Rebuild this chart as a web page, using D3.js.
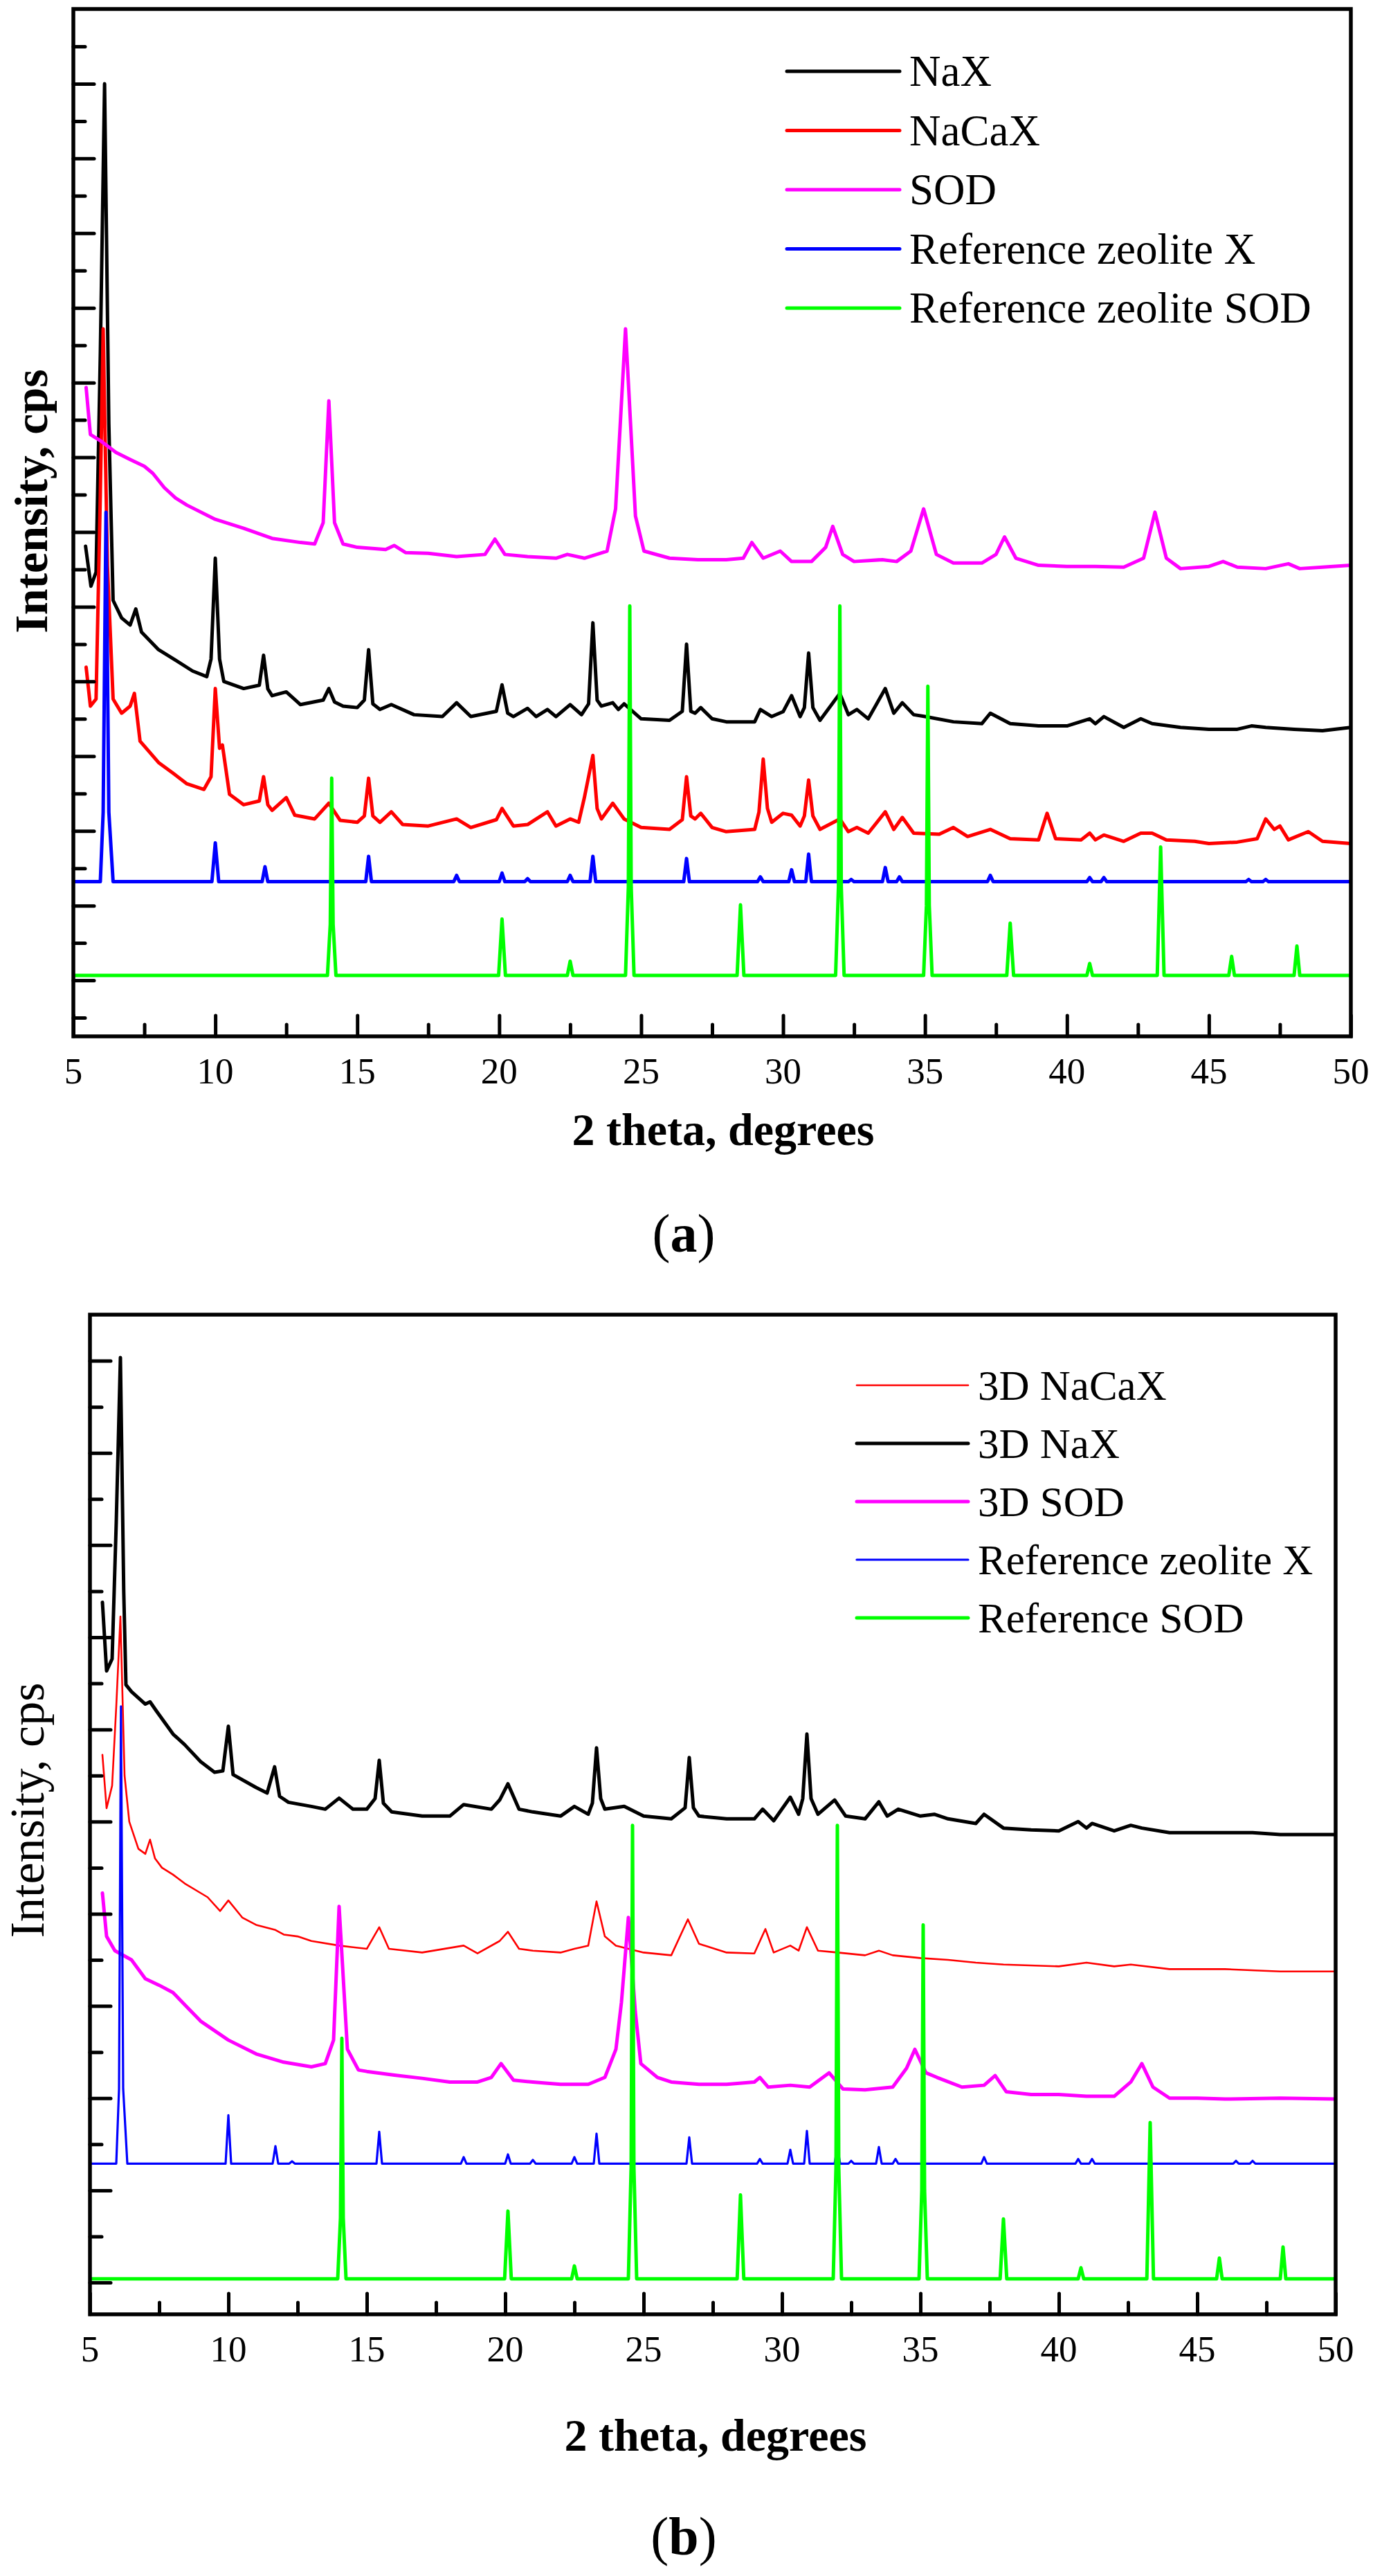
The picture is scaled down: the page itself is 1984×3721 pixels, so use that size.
<!DOCTYPE html>
<html>
<head>
<meta charset="utf-8">
<script src="https://cdn.jsdelivr.net/npm/d3@7"></script>
<style>
  html, body { margin: 0; padding: 0; background: #fff; }
  svg { display: block; }
  text { font-family: "Palatino Linotype", Palatino, "Book Antiqua", "Liberation Serif", serif; fill: #000; }
</style>
</head>
<body>
<svg id="chart" width="1984" height="3721"></svg>
<script>
// 2 theta tick labels (both panels)
const xTickLabels = [5, 10, 15, 20, 25, 30, 35, 40, 45, 50];

// ---- panel (a) patterns: [2theta, intensity in tick units] ----
const naxA = [[5.43,11.62],[5.62,10.55],[5.8,10.93],[5.95,16.78],[6.1,24.0],[6.25,14.89],[6.4,10.17],[6.7,9.70],[7.0,9.51],[7.2,9.94],[7.4,9.32],[8.0,8.85],[8.6,8.57],[9.2,8.28],[9.7,8.13],[9.85,8.6],[10.0,11.30],[10.15,8.6],[10.3,8.0],[11.0,7.81],[11.55,7.9],[11.7,8.70],[11.85,7.8],[12.0,7.62],[12.5,7.72],[13.0,7.38],[13.8,7.5],[14.0,7.81],[14.2,7.45],[14.5,7.34],[15.0,7.30],[15.25,7.5],[15.4,8.85],[15.55,7.4],[15.8,7.25],[16.2,7.38],[17.0,7.11],[18.0,7.06],[18.5,7.43],[19.0,7.06],[19.9,7.2],[20.1,7.91],[20.3,7.15],[20.5,7.06],[21.0,7.28],[21.3,7.06],[21.7,7.25],[22.0,7.06],[22.5,7.38],[22.9,7.11],[23.15,7.4],[23.3,9.57],[23.45,7.5],[23.6,7.34],[24.0,7.43],[24.2,7.25],[24.4,7.40],[25.0,7.0],[26.0,6.96],[26.45,7.2],[26.6,9.0],[26.75,7.2],[26.9,7.15],[27.1,7.30],[27.5,7.0],[28.0,6.92],[29.0,6.92],[29.2,7.25],[29.6,7.06],[30.0,7.19],[30.3,7.62],[30.6,7.06],[30.75,7.3],[30.9,8.76],[31.05,7.3],[31.3,6.96],[32.0,7.68],[32.3,7.11],[32.6,7.25],[33.0,7.0],[33.6,7.81],[33.9,7.15],[34.2,7.43],[34.6,7.11],[35.0,7.06],[36.0,6.92],[37.0,6.87],[37.3,7.15],[38.0,6.87],[39.0,6.81],[40.0,6.81],[40.8,7.0],[41.0,6.87],[41.3,7.06],[42.0,6.77],[42.6,7.0],[43.0,6.87],[44.0,6.77],[45.0,6.72],[46.0,6.72],[46.5,6.81],[47.0,6.77],[48.0,6.72],[49.0,6.68],[50.0,6.77]];

const nacaxA = [[5.45,8.38],[5.6,7.34],[5.8,7.53],[5.95,13.0],[6.05,17.44],[6.2,11.11],[6.4,7.53],[6.7,7.15],[7.0,7.34],[7.15,7.68],[7.35,6.40],[8.0,5.83],[8.5,5.55],[9.0,5.26],[9.6,5.11],[9.85,5.45],[10.0,7.81],[10.15,6.21],[10.25,6.30],[10.5,4.98],[11.0,4.70],[11.55,4.8],[11.7,5.45],[11.85,4.7],[12.0,4.55],[12.5,4.89],[12.8,4.42],[13.5,4.32],[14.0,4.74],[14.4,4.28],[15.0,4.23],[15.25,4.4],[15.4,5.41],[15.55,4.4],[15.8,4.23],[16.2,4.51],[16.6,4.17],[17.5,4.13],[18.5,4.32],[19.0,4.09],[19.9,4.3],[20.1,4.60],[20.5,4.13],[21.0,4.17],[21.7,4.51],[22.0,4.13],[22.5,4.32],[22.8,4.23],[23.0,4.89],[23.3,6.02],[23.45,4.6],[23.6,4.32],[24.0,4.74],[24.4,4.32],[25.0,4.09],[26.0,4.04],[26.45,4.3],[26.6,5.45],[26.75,4.4],[26.9,4.32],[27.1,4.47],[27.5,4.09],[28.0,3.98],[29.0,4.04],[29.15,4.5],[29.3,5.92],[29.45,4.6],[29.6,4.23],[30.0,4.47],[30.3,4.42],[30.6,4.13],[30.75,4.4],[30.9,5.36],[31.05,4.4],[31.3,4.04],[32.0,4.32],[32.3,3.98],[32.6,4.09],[33.0,3.94],[33.6,4.51],[33.9,4.04],[34.2,4.36],[34.6,3.94],[35.5,3.91],[36.0,4.09],[36.5,3.85],[37.3,4.04],[38.0,3.79],[39.0,3.76],[39.3,4.47],[39.6,3.79],[40.5,3.76],[40.8,3.94],[41.0,3.76],[41.3,3.89],[42.0,3.72],[42.6,3.94],[43.0,3.94],[43.5,3.76],[44.5,3.72],[45.0,3.66],[46.0,3.70],[46.7,3.79],[47.0,4.32],[47.3,4.04],[47.5,4.13],[47.8,3.76],[48.5,3.98],[49.0,3.72],[50.0,3.66]];

const sodA = [[5.45,15.87],[5.6,14.61],[6.0,14.42],[6.5,14.13],[7.0,13.94],[7.5,13.76],[7.8,13.57],[8.2,13.19],[8.6,12.91],[9.0,12.72],[10.0,12.34],[11.0,12.10],[12.0,11.83],[13.0,11.72],[13.5,11.68],[13.8,12.25],[14.0,15.51],[14.2,12.25],[14.5,11.68],[15.0,11.59],[16.0,11.53],[16.3,11.64],[16.7,11.45],[17.5,11.43],[18.5,11.34],[19.5,11.40],[19.85,11.81],[20.2,11.40],[21.0,11.34],[22.0,11.30],[22.4,11.40],[23.0,11.30],[23.8,11.49],[24.1,12.62],[24.45,17.44],[24.8,12.43],[25.1,11.49],[26.0,11.30],[27.0,11.26],[28.0,11.26],[28.6,11.30],[28.9,11.72],[29.3,11.30],[29.9,11.49],[30.3,11.21],[31.0,11.21],[31.5,11.59],[31.75,12.15],[32.1,11.40],[32.5,11.21],[33.5,11.26],[34.0,11.21],[34.5,11.49],[34.95,12.62],[35.4,11.40],[36.0,11.17],[37.0,11.17],[37.5,11.40],[37.8,11.87],[38.2,11.30],[39.0,11.11],[40.0,11.08],[41.0,11.08],[42.0,11.06],[42.7,11.30],[43.1,12.53],[43.5,11.30],[44.0,11.02],[45.0,11.08],[45.5,11.21],[46.0,11.06],[47.0,11.02],[47.8,11.15],[48.2,11.02],[49.0,11.06],[50.0,11.11]];

const refXA = [[5.0,2.64],[5.95,2.64],[6.05,4.5],[6.15,12.53],[6.25,4.5],[6.4,2.64],[9.88,2.64],[10.0,3.68],[10.12,2.64],[11.65,2.64],[11.75,3.04],[11.85,2.64],[15.3,2.64],[15.4,3.32],[15.5,2.64],[18.4,2.64],[18.5,2.81],[18.6,2.64],[20.0,2.64],[20.1,2.87],[20.2,2.64],[20.9,2.64],[21.0,2.72],[21.1,2.64],[22.4,2.64],[22.5,2.81],[22.6,2.64],[23.2,2.64],[23.3,3.32],[23.4,2.64],[26.5,2.64],[26.6,3.26],[26.7,2.64],[29.1,2.64],[29.2,2.77],[29.3,2.64],[30.2,2.64],[30.3,2.96],[30.4,2.64],[30.8,2.64],[30.9,3.38],[31.0,2.64],[32.3,2.64],[32.4,2.70],[32.5,2.64],[33.5,2.64],[33.6,3.02],[33.7,2.64],[34.0,2.64],[34.1,2.77],[34.2,2.64],[37.2,2.64],[37.3,2.81],[37.4,2.64],[40.7,2.64],[40.8,2.75],[40.9,2.64],[41.2,2.64],[41.3,2.75],[41.4,2.64],[46.3,2.64],[46.4,2.70],[46.5,2.64],[46.9,2.64],[47.0,2.70],[47.1,2.64],[50.0,2.64]];

const refSodA = [[5.0,0.13],[13.95,0.13],[14.05,1.5],[14.1,5.41],[14.15,1.5],[14.25,0.13],[19.98,0.13],[20.1,1.64],[20.22,0.13],[22.4,0.13],[22.5,0.51],[22.6,0.13],[24.45,0.13],[24.55,2.5],[24.6,10.02],[24.65,2.5],[24.75,0.13],[28.38,0.13],[28.5,2.02],[28.62,0.13],[31.85,0.13],[31.95,2.5],[32.0,10.02],[32.05,2.5],[32.15,0.13],[34.95,0.13],[35.05,2.0],[35.1,7.87],[35.15,2.0],[35.25,0.13],[37.88,0.13],[38.0,1.53],[38.12,0.13],[40.7,0.13],[40.8,0.45],[40.9,0.13],[43.18,0.13],[43.3,3.57],[43.42,0.13],[45.7,0.13],[45.8,0.64],[45.9,0.13],[48.0,0.13],[48.1,0.92],[48.2,0.13],[50.0,0.13]];

// ---- panel (b) patterns ----
const naxB = [[5.45,14.76],[5.6,13.27],[5.8,13.53],[5.95,16.5],[6.1,20.07],[6.22,15.0],[6.3,12.97],[6.5,12.82],[7.0,12.55],[7.17,12.6],[7.4,12.4],[8.0,11.9],[8.42,11.67],[9.0,11.3],[9.5,11.07],[9.8,11.1],[10.0,12.07],[10.17,11.02],[11.0,10.74],[11.4,10.62],[11.67,11.19],[11.85,10.55],[12.17,10.42],[13.0,10.33],[13.5,10.27],[14.0,10.51],[14.5,10.27],[15.0,10.27],[15.3,10.5],[15.45,11.33],[15.6,10.4],[15.9,10.21],[17.0,10.12],[18.0,10.12],[18.5,10.37],[19.5,10.27],[19.8,10.47],[20.1,10.82],[20.5,10.27],[21.0,10.21],[22.0,10.12],[22.5,10.33],[23.0,10.16],[23.15,10.4],[23.3,11.6],[23.45,10.5],[23.6,10.27],[24.3,10.33],[25.0,10.12],[26.0,10.06],[26.5,10.3],[26.65,11.39],[26.8,10.3],[27.0,10.12],[28.0,10.06],[29.0,10.06],[29.3,10.27],[29.7,10.02],[30.3,10.53],[30.6,10.16],[30.75,10.5],[30.9,11.9],[31.05,10.5],[31.3,10.16],[31.9,10.47],[32.3,10.12],[33.0,10.06],[33.5,10.43],[33.8,10.12],[34.2,10.27],[35.0,10.12],[35.5,10.16],[36.0,10.06],[37.0,9.96],[37.3,10.16],[38.0,9.86],[39.0,9.82],[40.0,9.80],[40.7,10.0],[41.0,9.86],[41.2,9.96],[42.0,9.80],[42.6,9.92],[43.0,9.86],[44.0,9.76],[46.0,9.76],[47.0,9.76],[48.0,9.72],[50.0,9.72]];

const nacaxB = [[5.45,11.45],[5.6,10.29],[5.8,10.78],[5.95,12.5],[6.1,14.45],[6.25,11.0],[6.42,10.0],[6.75,9.41],[7.0,9.3],[7.17,9.61],[7.35,9.2],[7.6,9.0],[8.0,8.85],[8.42,8.66],[9.0,8.45],[9.25,8.36],[9.7,8.06],[10.0,8.29],[10.5,7.92],[11.0,7.76],[11.7,7.65],[12.0,7.55],[12.5,7.51],[13.0,7.41],[14.0,7.31],[15.0,7.24],[15.45,7.71],[15.8,7.24],[17.0,7.16],[18.5,7.31],[19.0,7.14],[19.8,7.41],[20.1,7.61],[20.5,7.24],[21.0,7.2],[22.0,7.16],[22.5,7.24],[23.0,7.31],[23.3,8.27],[23.6,7.51],[24.0,7.31],[25.0,7.16],[26.0,7.10],[26.6,7.88],[27.0,7.35],[28.0,7.16],[29.0,7.14],[29.4,7.67],[29.7,7.16],[30.3,7.31],[30.6,7.2],[30.9,7.71],[31.3,7.2],[32.0,7.16],[33.0,7.10],[33.5,7.2],[34.0,7.10],[35.0,7.04],[36.0,7.0],[37.0,6.94],[38.0,6.90],[40.0,6.86],[41.0,6.94],[42.0,6.86],[42.6,6.90],[44.0,6.80],[46.0,6.80],[48.0,6.75],[50.0,6.75]];

const sodB = [[5.45,8.45],[5.6,7.51],[5.9,7.20],[6.5,7.0],[7.0,6.59],[7.5,6.45],[8.0,6.29],[8.5,5.98],[9.0,5.67],[10.0,5.26],[11.0,4.96],[12.0,4.78],[13.0,4.68],[13.5,4.75],[13.8,5.26],[14.0,8.16],[14.3,5.06],[14.7,4.61],[15.0,4.58],[16.0,4.50],[17.0,4.43],[18.0,4.35],[19.0,4.35],[19.5,4.45],[19.85,4.75],[20.3,4.39],[21.0,4.35],[22.0,4.30],[23.0,4.30],[23.6,4.45],[24.0,5.06],[24.2,6.08],[24.45,7.92],[24.7,5.88],[24.9,4.75],[25.5,4.45],[26.0,4.35],[27.0,4.30],[28.0,4.30],[29.0,4.35],[29.2,4.45],[29.5,4.24],[30.3,4.28],[31.0,4.24],[31.7,4.55],[32.2,4.20],[33.0,4.18],[34.0,4.24],[34.5,4.65],[34.8,5.06],[35.2,4.55],[35.6,4.45],[36.5,4.24],[37.3,4.28],[37.7,4.49],[38.1,4.14],[39.0,4.08],[40.0,4.08],[41.0,4.04],[42.0,4.04],[42.6,4.35],[43.0,4.75],[43.4,4.24],[44.0,4.0],[45.0,4.0],[46.0,3.98],[48.0,4.0],[50.0,3.98]];

const refXB = [[5.0,2.58],[5.95,2.58],[6.05,4.2],[6.12,12.5],[6.2,4.2],[6.35,2.58],[9.9,2.58],[10.0,3.63],[10.1,2.58],[11.6,2.58],[11.7,2.96],[11.8,2.58],[12.2,2.58],[12.3,2.63],[12.4,2.58],[15.35,2.58],[15.45,3.27],[15.55,2.58],[18.4,2.58],[18.5,2.72],[18.6,2.58],[20.0,2.58],[20.1,2.78],[20.2,2.58],[20.9,2.58],[21.0,2.66],[21.1,2.58],[22.4,2.58],[22.5,2.72],[22.6,2.58],[23.2,2.58],[23.3,3.23],[23.4,2.58],[26.55,2.58],[26.65,3.15],[26.75,2.58],[29.1,2.58],[29.2,2.68],[29.3,2.58],[30.2,2.58],[30.3,2.88],[30.4,2.58],[30.8,2.58],[30.9,3.29],[31.0,2.58],[31.9,2.58],[32.0,2.94],[32.1,2.58],[32.4,2.58],[32.5,2.64],[32.6,2.58],[33.4,2.58],[33.5,2.94],[33.6,2.58],[34.0,2.58],[34.1,2.68],[34.2,2.58],[37.2,2.58],[37.3,2.72],[37.4,2.58],[40.6,2.58],[40.7,2.68],[40.8,2.58],[41.1,2.58],[41.2,2.68],[41.3,2.58],[46.3,2.58],[46.4,2.64],[46.5,2.58],[46.9,2.58],[47.0,2.64],[47.1,2.58],[50.0,2.58]];

const refSodB = [[5.0,0.08],[13.95,0.08],[14.05,1.4],[14.1,5.3],[14.15,1.4],[14.25,0.08],[19.98,0.08],[20.1,1.55],[20.22,0.08],[22.4,0.08],[22.5,0.36],[22.6,0.08],[24.45,0.08],[24.55,2.5],[24.6,9.92],[24.65,2.5],[24.75,0.08],[28.38,0.08],[28.5,1.9],[28.62,0.08],[31.85,0.08],[31.95,2.5],[32.0,9.92],[32.05,2.5],[32.15,0.08],[34.95,0.08],[35.05,2.0],[35.1,7.76],[35.15,2.0],[35.25,0.08],[37.88,0.08],[38.0,1.38],[38.12,0.08],[40.7,0.08],[40.8,0.32],[40.9,0.08],[43.18,0.08],[43.3,3.47],[43.42,0.08],[45.7,0.08],[45.8,0.53],[45.9,0.08],[48.0,0.08],[48.1,0.77],[48.2,0.08],[50.0,0.08]];

// legend order as in the figure
const legendA = ['NaX', 'NaCaX', 'SOD', 'Reference zeolite X', 'Reference zeolite SOD'];
const legendB = ['3D NaCaX', '3D NaX', '3D SOD', 'Reference zeolite X', 'Reference SOD'];

const svg = d3.select('#chart');

function drawPanel(p) {
  const x = d3.scaleLinear().domain([5, 50]).range([p.left, p.right]);
  const y = d3.scaleLinear().domain(p.yDomain).range([p.bottom, p.top]);
  const g = svg.append('g');

  g.append('clipPath').attr('id', 'clip-' + p.id)
    .append('rect')
    .attr('x', p.left).attr('y', p.top)
    .attr('width', p.right - p.left).attr('height', p.bottom - p.top);

  const line = d3.line().x(d => x(d[0])).y(d => y(d[1]));
  const plot = g.append('g').attr('clip-path', 'url(#clip-' + p.id + ')');
  p.series.forEach(s => {
    plot.append('path')
      .datum(s.data)
      .attr('d', line)
      .attr('fill', 'none')
      .attr('stroke', s.color)
      .attr('stroke-width', s.width)
      .attr('stroke-linejoin', 'round')
      .attr('stroke-linecap', 'round');
  });

  // inward ticks, bottom axis
  const xTicks = d3.range(5, 50.01, 2.5);
  const xAxis = d3.axisBottom(x).tickValues(xTicks).tickSize(0).tickFormat('');
  const gx = g.append('g').attr('transform', `translate(0,${p.bottom})`).call(xAxis);
  gx.select('.domain').remove();
  gx.selectAll('.tick').append('line')
    .attr('y1', 0)
    .attr('y2', d => d % 5 === 0 ? -30 : -17)
    .attr('stroke', '#000').attr('stroke-width', 5).attr('stroke-linecap', 'round');

  g.selectAll('.xlab').data(xTickLabels).enter().append('text')
    .attr('x', d => x(d))
    .attr('y', p.bottom + 68)
    .attr('text-anchor', 'middle')
    .attr('font-size', 53)
    .text(d => d);

  // inward ticks, left axis (no labels)
  const yTicks = d3.range(p.yTickStart, p.yTickEnd + 1, 1);
  const yAxis = d3.axisLeft(y).tickValues(yTicks).tickSize(0).tickFormat('');
  const gy = g.append('g').attr('transform', `translate(${p.left},0)`).call(yAxis);
  gy.select('.domain').remove();
  gy.selectAll('.tick').append('line')
    .attr('x1', 0)
    .attr('x2', d => Math.abs(d % 2) === 0 ? 30 : 17)
    .attr('stroke', '#000').attr('stroke-width', 5).attr('stroke-linecap', 'round');

  // frame
  g.append('rect')
    .attr('x', p.left).attr('y', p.top)
    .attr('width', p.right - p.left).attr('height', p.bottom - p.top)
    .attr('fill', 'none').attr('stroke', '#000').attr('stroke-width', 5.5);

  // legend
  p.legend.forEach((name, i) => {
    const s = p.series[p.legendIdx[i]];
    const ly = p.legY + i * p.legStep;
    g.append('line')
      .attr('x1', p.legX1).attr('x2', p.legX2)
      .attr('y1', ly).attr('y2', ly)
      .attr('stroke', s.color).attr('stroke-width', s.width)
      .attr('stroke-linecap', 'round');
    g.append('text')
      .attr('x', p.legX2 + 14).attr('y', ly + 21)
      .attr('font-size', p.legFont)
      .text(name);
  });

  // axis titles
  g.append('text')
    .attr('transform', `translate(${p.yLabX},${p.yLabY}) rotate(-90)`)
    .attr('text-anchor', 'middle')
    .attr('font-size', p.yLabSize)
    .attr('font-weight', p.yLabBold ? 'bold' : 'normal')
    .text('Intensity, cps');

  g.append('text')
    .attr('x', p.xLabX).attr('y', p.xLabY)
    .attr('text-anchor', 'middle')
    .attr('font-size', 66).attr('font-weight', 'bold')
    .text('2 theta, degrees');

  const cap = g.append('text')
    .attr('x', 988).attr('y', p.capY)
    .attr('text-anchor', 'middle')
    .attr('font-size', 78);
  cap.append('tspan').text('(');
  cap.append('tspan').attr('font-weight', 'bold').text(p.cap);
  cap.append('tspan').text(')');
}

drawPanel({
  id: 'a', left: 106, right: 1952, top: 13, bottom: 1497,
  yDomain: [-1.5, 26.0], yTickStart: -1, yTickEnd: 25,
  series: [
    { data: naxA, color: '#000000', width: 5 },
    { data: nacaxA, color: '#ff0000', width: 5 },
    { data: sodA, color: '#ff00ff', width: 5 },
    { data: refXA, color: '#0000ff', width: 5 },
    { data: refSodA, color: '#00ff00', width: 5 }
  ],
  legend: legendA, legendIdx: [0, 1, 2, 3, 4],
  legX1: 1137, legX2: 1300, legY: 103, legStep: 85.5, legFont: 63,
  yLabX: 68, yLabY: 724, yLabBold: true, yLabSize: 68,
  xLabX: 1045, xLabY: 1654,
  cap: 'a', capY: 1808
});

drawPanel({
  id: 'b', left: 130, right: 1930, top: 1899, bottom: 3343,
  yDomain: [-0.69, 21.0], yTickStart: 0, yTickEnd: 20,
  series: [
    { data: naxB, color: '#000000', width: 5 },
    { data: nacaxB, color: '#ff0000', width: 2.6 },
    { data: sodB, color: '#ff00ff', width: 5 },
    { data: refXB, color: '#0000ff', width: 3.2 },
    { data: refSodB, color: '#00ff00', width: 5 }
  ],
  legend: legendB, legendIdx: [1, 0, 2, 3, 4],
  legX1: 1238, legX2: 1399, legY: 2001, legStep: 84, legFont: 61,
  yLabX: 63, yLabY: 2615, yLabBold: false, yLabSize: 70,
  xLabX: 1034, xLabY: 3540,
  cap: 'b', capY: 3690
});
</script>
</body>
</html>
